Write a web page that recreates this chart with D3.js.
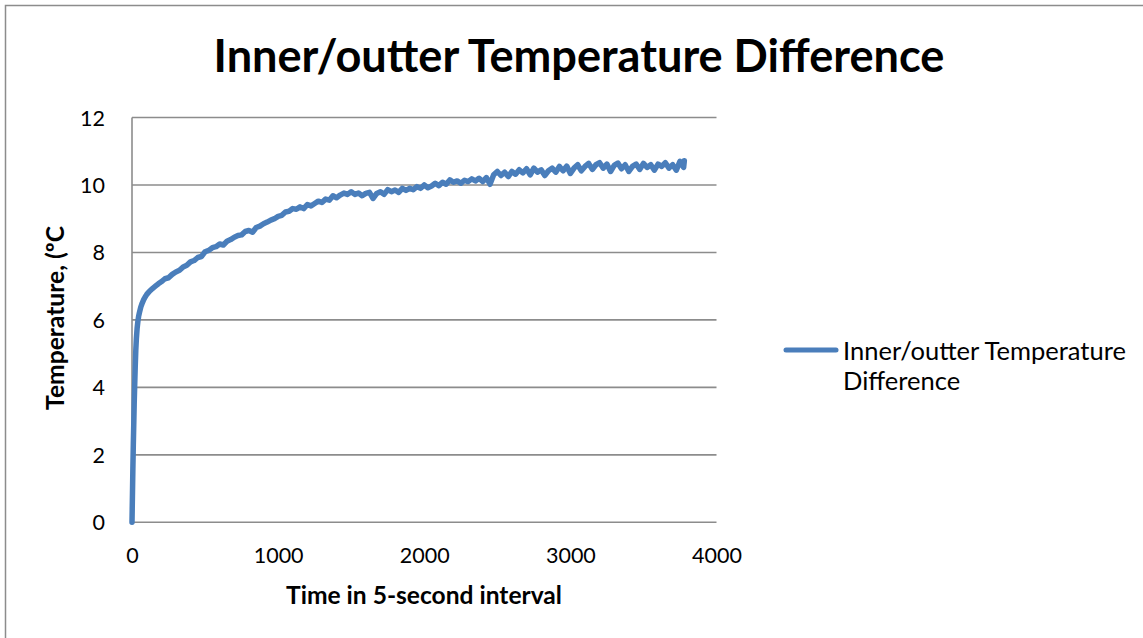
<!DOCTYPE html>
<html><head><meta charset="utf-8">
<script src="https://cdn.jsdelivr.net/npm/d3@7"></script>
<style>body{margin:0;background:#fff}svg{display:block}text{font-family:Lato,"Open Sans",sans-serif;fill:#000}</style>
</head><body><svg id="c" width="1143" height="638"></svg>
<script>
const chartTitle = "Inner/outter Temperature Difference";
const seriesName = "Inner/outter Temperature Difference";
const xTicks = [0, 1000, 2000, 3000, 4000];
const yTicks = [0, 2, 4, 6, 8, 10, 12];
const timeEarly = [0,3,6,9,12,15,18,22,26,30,35,40,45,50,60,70,80,90,100,110,120,140,160,180];
const tempEarly = [0,0.8,1.6,2.3,2.9,3.5,4.0,4.6,5.1,5.45,5.75,5.95,6.1,6.2,6.38,6.5,6.6,6.68,6.75,6.8,6.85,6.93,7.0,7.07];
const timeStart = 200, timeStep = 25;
const tempMain = [
7.13,7.22,7.25,7.35, 7.42,7.47,7.57,7.62, 7.72,7.76,7.85,7.88, 8.02,8.06,8.14,8.17,
8.25,8.22,8.33,8.38, 8.45,8.5,8.52,8.62, 8.65,8.6,8.74,8.78, 8.85,8.9,8.96,9.0,
9.07,9.1,9.2,9.22, 9.3,9.28,9.35,9.3, 9.42,9.38,9.45,9.52, 9.48,9.58,9.55,9.68,
9.62,9.7,9.76,9.72, 9.8,9.72,9.76,9.68, 9.75,9.78,9.6,9.75, 9.8,9.72,9.86,9.8,
9.85,9.78,9.9,9.84, 9.9,9.86,9.95,9.9, 10.0,9.92,9.97,10.05, 9.98,10.08,10.02,10.15,
10.08,10.12,10.05,10.14, 10.1,10.18,10.12,10.2, 10.1,10.22,10.02,10.3, 10.4,10.28,10.38,10.25,
10.4,10.32,10.45,10.36, 10.48,10.3,10.5,10.38, 10.45,10.28,10.42,10.5, 10.38,10.55,10.42,10.56,
10.34,10.5,10.6,10.42, 10.55,10.64,10.46,10.6, 10.66,10.5,10.62,10.4, 10.58,10.65,10.48,10.6,
10.4,10.55,10.62,10.46, 10.64,10.52,10.6,10.44, 10.62,10.55,10.66,10.5, 10.6,10.44,10.7,10.52];
const timeEnd = [3780];
const tempEnd = [10.72];

const times = timeEarly.concat(tempMain.map((_, i) => timeStart + i * timeStep), timeEnd);
const temps = tempEarly.concat(tempMain, tempEnd);
const data = times.map((t, i) => ({t, v: temps[i]}));

const svg = d3.select("#c");
svg.append("rect").attr("x",5.5).attr("y",5.5).attr("width",1150).attr("height",650)
  .attr("fill","#fff").attr("stroke","#8c8c8c").attr("stroke-width",1.5);

const x = d3.scaleLinear().domain([0,4000]).range([132,716.5]);
const y = d3.scaleLinear().domain([0,12]).range([522.3,117.5]);

function fit(sel, w){ const n = sel.node(); const cur = n.getComputedTextLength(); const fs = parseFloat(sel.attr("font-size")); sel.attr("font-size", fs*w/cur); }

svg.append("g").selectAll("line").data(yTicks).join("line")
  .attr("x1", x(0)).attr("x2", x(4000)).attr("y1", d=>y(d)).attr("y2", d=>y(d))
  .attr("stroke","#8c8c8c").attr("stroke-width",1.6);
svg.append("line").attr("x1",x(0)).attr("x2",x(0)).attr("y1",y(0)).attr("y2",y(12))
  .attr("stroke","#8c8c8c").attr("stroke-width",1.6);

const yAx = svg.append("g").attr("transform",`translate(${x(0)-27},0)`)
  .call(d3.axisLeft(y).tickValues(yTicks).tickFormat(d3.format("d")).tickSize(0).tickPadding(0));
yAx.select(".domain").remove();
yAx.selectAll("text").attr("font-size",21.5).attr("font-family","Lato,'Open Sans',sans-serif").attr("fill","#000").attr("dy","0.35em");

const xAx = svg.append("g").attr("transform",`translate(0,${y(0)+25})`)
  .call(d3.axisBottom(x).tickValues(xTicks).tickFormat(d3.format("d")).tickSize(0).tickPadding(0));
xAx.select(".domain").remove();
xAx.selectAll("text").attr("font-size",21.5).attr("font-family","Lato,'Open Sans',sans-serif").attr("fill","#000").attr("dy","0.71em");

svg.append("path").datum(data)
  .attr("fill","none").attr("stroke","#4a7ebb").attr("stroke-width",5.5)
  .attr("stroke-linejoin","round").attr("stroke-linecap","round")
  .attr("d", d3.line().x(d=>x(d.t)).y(d=>y(d.v)));

const t = svg.append("text").attr("x",579).attr("y",72).attr("text-anchor","middle")
  .attr("font-weight","bold").attr("font-size",36).text(chartTitle);
fit(t, 731);

const xt = svg.append("text").attr("x",424).attr("y",604).attr("text-anchor","middle")
  .attr("font-weight","bold").attr("font-size",20).text("Time in 5-second interval");
fit(xt, 276);

const yt = svg.append("text").attr("transform","translate(64,318) rotate(-90)").attr("text-anchor","middle")
  .attr("font-weight","bold").attr("font-size",20).text("Temperature, (ºC");
fit(yt, 184);

svg.append("line").attr("x1",786).attr("x2",836).attr("y1",350).attr("y2",350)
  .attr("stroke","#4a7ebb").attr("stroke-width",5).attr("stroke-linecap","round");
const words = seriesName.split(" ");
const l1 = svg.append("text").attr("x",843).attr("y",360).attr("font-size",21).text(words.slice(0,2).join(" "));
fit(l1, 283);
const fsL = l1.attr("font-size");
svg.append("text").attr("x",843).attr("y",390).attr("font-size",fsL).text(words.slice(2).join(" "));
</script></body></html>
